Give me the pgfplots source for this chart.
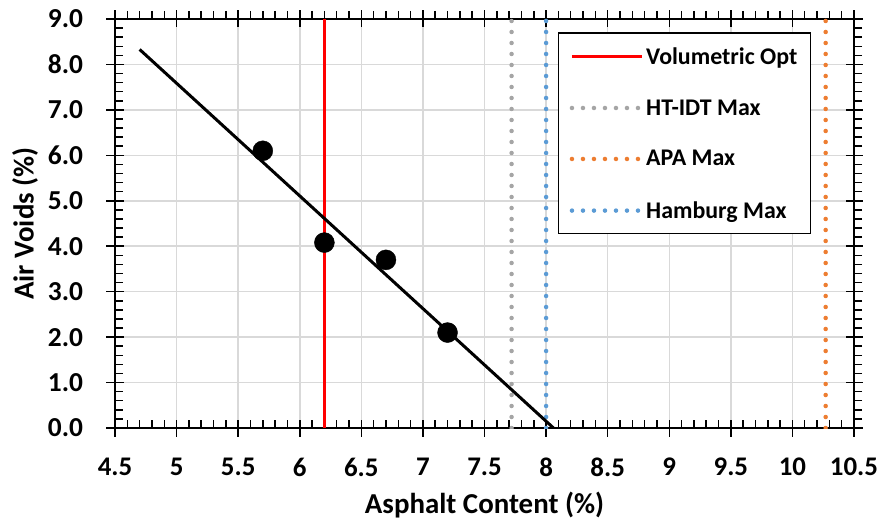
\documentclass[border=0pt]{standalone}
\usepackage{pgfplots}
\pgfplotsset{compat=1.18}
\usepackage{fontspec}
\setmainfont{Carlito}
\definecolor{ggray}{HTML}{A5A5A5}
\definecolor{gorange}{HTML}{ED7D31}
\definecolor{gblue}{HTML}{5B9BD5}
\definecolor{gridc}{HTML}{D9D9D9}
\begin{document}
\begin{tikzpicture}
\begin{axis}[
  name=ax,
  scale only axis, width=739bp, height=409bp,
  xmin=4.5, xmax=10.5, ymin=0, ymax=9,
  xtick={4.5,5,...,10.5}, ytick={0,1,...,9},
  minor x tick num=4, minor y tick num=4,
  grid=major, major grid style={gridc, line width=1.5bp},
  axis line style={black, line width=1.5bp},
  tick style={black, line width=1.5bp},
  tick align=center, major tick length=17bp, minor tick length=8bp,
  minor x tick style={yshift=4bp}, minor y tick style={xshift=4bp},
  /pgf/number format/assume math mode=true,
  tick label style={font=\bfseries\fontsize{27.5}{27.5}\selectfont},
  xticklabel style={yshift=-18bp, font=\bfseries\fontsize{27}{27}\selectfont},
  yticklabel={\pgfmathprintnumber[fixed,fixed zerofill,precision=1,assume math mode=true]{\tick}},
  yticklabel shift=20bp,
  xlabel={Asphalt Content (\%)}, ylabel={Air Voids (\%)},
  label style={font=\bfseries\fontsize{29}{29}\selectfont},
  xlabel style={at={(axis description cs:0.5,0)}, anchor=center, yshift=-77bp},
  ylabel style={at={(axis description cs:0,0.5)}, anchor=center, yshift=90bp},
  legend style={at={(0.942,0.967)}, anchor=north east, draw=black, line width=1.5bp,
    font=\bfseries\fontsize{24}{24}\selectfont, row sep=30bp, inner xsep=11bp, inner ysep=12bp},
  legend cell align=left,
  legend image code/.code={\draw[#1] (0bp,0bp) -- (70bp,0bp);},
  dotstyle/.style={line width=4.5bp, dash pattern=on 0bp off 11bp, line cap=round},
]
\addplot[red, line width=3bp] coordinates {(6.2,0) (6.2,9)};
\addlegendentry{Volumetric Opt}
\addplot[ggray, dotstyle] coordinates {(7.72,0) (7.72,9)};
\addlegendentry{HT-IDT Max}
\addplot[gorange, dotstyle] coordinates {(10.27,0) (10.27,9)};
\addlegendentry{APA Max}
\addplot[gblue, dotstyle] coordinates {(8.0,0) (8.0,9)};
\addlegendentry{Hamburg Max}
\addplot[black, line width=3bp, forget plot] coordinates {(4.7,8.33) (8.06,0)};
\addplot[black, only marks, mark=*, mark size=10bp, forget plot] coordinates {(5.7,6.1) (6.2,4.08) (6.7,3.7) (7.2,2.1)};
\end{axis}
\pgfresetboundingbox
\path ([xshift=-115bp,yshift=-101bp]ax.south west) rectangle ++(877bp,529bp);
\end{tikzpicture}
\end{document}
